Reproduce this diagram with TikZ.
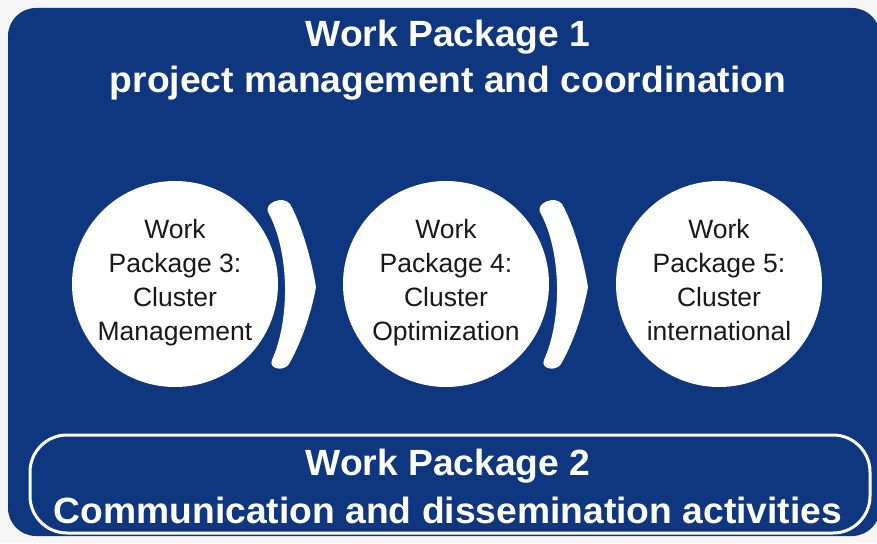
\documentclass[tikz,border=0pt]{standalone}
\usepackage{fontspec}
\setmainfont{Liberation Sans}
\newfontfamily\wpbold{Liberation Sans}[FakeStretch=1.02]
\definecolor{wpblue}{RGB}{14,55,128}
\definecolor{bgcol}{RGB}{246,246,246}
\definecolor{txtcol}{RGB}{25,25,25}
\tikzset{
  wptitle/.style={text=white,font=\wpbold\fontsize{36.5}{42}\selectfont\bfseries,anchor=base,inner sep=0pt},
  wpcircle/.style={circle,fill=white,minimum size=206pt,inner sep=0pt},
  wptext/.style={align=center,text=txtcol,font=\fontsize{26.5}{34}\selectfont,inner sep=0pt},
  wpchevron/.pic={
    \fill[white] (268,212) .. controls (264,203) and (283,195) .. (290,204)
      .. controls (302,225) and (312,262) .. (316,287)
      .. controls (311,315) and (300,345) .. (289,364)
      .. controls (284,372) and (268,369) .. (272,360)
      .. controls (290,320) and (290,252) .. cycle;
  }
}
\begin{document}
\begin{tikzpicture}[x=1pt,y=-1pt]
\clip (0,0) rectangle (877,543);
\fill[bgcol] (0,0) rectangle (877,543);
\node[fill=wpblue,rounded corners=28pt,minimum width=872pt,minimum height=528pt,anchor=north west,inner sep=0pt,outer sep=0pt] (frame) at (8,8) {};
\node[draw=white,line width=3pt,rounded corners=37pt,minimum width=840pt,minimum height=98pt,anchor=north west,inner sep=0pt,outer sep=0pt] (wp2box) at (30,435) {};
\node[wptitle] (t1a) at (448,47) {Work Package 1};
\node[wptitle] (t1b) at (448,92) {project management and coordination};
\node[wpcircle] (c3) at (175,284) {};
\node[wpcircle] (c4) at (446,284) {};
\node[wpcircle] (c5) at (719,284) {};
\node[wptext,yshift=1pt] (l3) at (c3) {Work\\Package 3:\\Cluster\\Management\vphantom{g}};
\node[wptext,yshift=1pt] (l4) at (c4) {Work\\Package 4:\\Cluster\\Optimization\vphantom{g}};
\node[wptext,yshift=1pt] (l5) at (c5) {Work\\Package 5:\\Cluster\\international\vphantom{g}};
\pic (ch1) at (0,0) {wpchevron};
\pic (ch2) at (272,0) {wpchevron};
\node[wptitle] (t2a) at (448,475) {Work Package 2};
\node[wptitle] (t2b) at (448,523) {Communication and dissemination activities};
\end{tikzpicture}
\end{document}
